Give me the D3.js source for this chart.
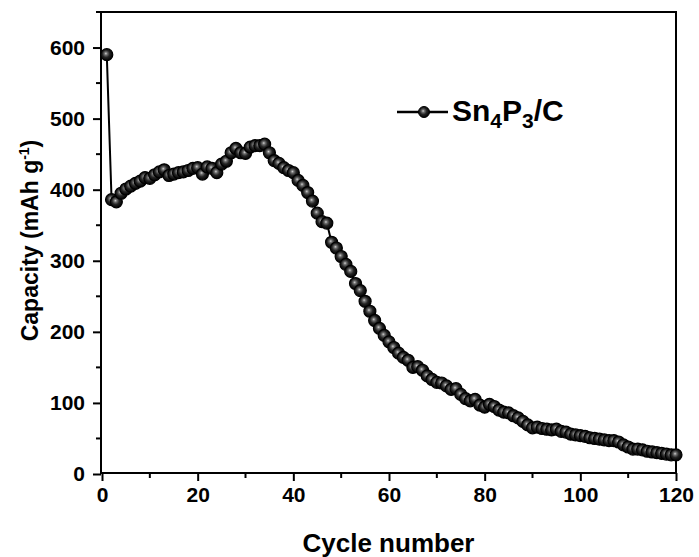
<!DOCTYPE html>
<html>
<head>
<meta charset="utf-8">
<script src="https://cdn.jsdelivr.net/npm/d3@7"></script>
<style>
  html, body { margin: 0; padding: 0; background: #fff; }
  svg { display: block; font-family: "Liberation Sans", Arial, sans-serif; font-weight: bold; }
</style>
</head>
<body>
<svg id="chart" width="699" height="557"></svg>
<script>
// Cycling capacity of the Sn4P3/C electrode (mAh g^-1), one value per cycle
const cycles = d3.range(1, 121);
const capacity = [
  590, 386, 383, 395, 401, 405, 409, 412, 417, 416,
  421, 425, 428, 420, 422, 424, 425, 427, 430, 431,
  422, 432, 430, 424, 436, 440, 452, 458, 452, 451,
  460, 462, 462, 464, 452, 441, 437, 431, 427, 424,
  413, 406, 396, 384, 367, 355, 353, 326, 318, 306,
  295, 285, 268, 258, 243, 229, 216, 205, 195, 186,
  178, 170, 164, 160, 150, 151, 146, 138, 133, 129,
  128, 124, 119, 120, 112, 106, 103, 105, 97, 94,
  98, 95, 90, 87, 86, 82, 79, 74, 69, 65,
  66, 64, 63, 62, 63, 60, 59, 56, 55, 54,
  53, 51, 50, 49, 48, 47, 47, 45, 41, 38,
  35, 35, 34, 32, 31, 30, 29, 28, 27, 27
];
const xTicks = [0, 20, 40, 60, 80, 100, 120];
const yTicks = [0, 100, 200, 300, 400, 500, 600];

const svg = d3.select("#chart");
const plotL = 101, plotR = 676, plotT = 12, plotB = 473;

const x = d3.scaleLinear().domain([0, 120]).range([102, 676]);
const y = d3.scaleLinear().domain([0, 650]).range([474, 12]);

// Sphere-like marker shading
const defs = svg.append("defs");
const grad = defs.append("radialGradient").attr("id", "ball")
  .attr("cx", "45%").attr("cy", "45%").attr("r", "55%").attr("fx", "42%").attr("fy", "40%");
grad.append("stop").attr("offset", "0%").attr("stop-color", "#d0d0d0");
grad.append("stop").attr("offset", "22%").attr("stop-color", "#707070");
grad.append("stop").attr("offset", "55%").attr("stop-color", "#242424");
grad.append("stop").attr("offset", "100%").attr("stop-color", "#000");

// Frame
svg.append("rect")
  .attr("x", plotL).attr("y", plotT)
  .attr("width", plotR - plotL).attr("height", plotB - plotT)
  .attr("fill", "none").attr("stroke", "#000").attr("stroke-width", 2);

// Minor ticks
const minorX = d3.range(10, 120, 20);
const minorY = d3.range(50, 651, 100);
svg.append("g").selectAll("line").data(minorX).join("line")
  .attr("x1", d => x(d)).attr("x2", d => x(d))
  .attr("y1", plotB).attr("y2", plotB + 5)
  .attr("stroke", "#000").attr("stroke-width", 2);
svg.append("g").selectAll("line").data(minorY).join("line")
  .attr("y1", d => y(d)).attr("y2", d => y(d))
  .attr("x1", plotL).attr("x2", plotL - 5)
  .attr("stroke", "#000").attr("stroke-width", 2);

// Major axes
const xAxis = svg.append("g").attr("transform", `translate(0,${plotB})`)
  .call(d3.axisBottom(x).tickValues(xTicks).tickSize(8).tickPadding(6).tickFormat(d3.format("d")));
const yAxis = svg.append("g").attr("transform", `translate(${plotL},0)`)
  .call(d3.axisLeft(y).tickValues(yTicks).tickSize(8).tickPadding(8).tickFormat(d3.format("d")));
[xAxis, yAxis].forEach(g => {
  g.select(".domain").remove();
  g.selectAll(".tick line").attr("stroke", "#000").attr("stroke-width", 2);
  g.selectAll(".tick text").attr("fill", "#000")
    .style("font-size", "21px").style("font-weight", "bold")
    .style("font-family", "'Liberation Sans', Arial, sans-serif");
});

// Axis titles
svg.append("text")
  .attr("x", (plotL + plotR) / 2).attr("y", 552)
  .attr("text-anchor", "middle").style("font-size", "26px")
  .text("Cycle number");

const yTitle = svg.append("text")
  .attr("transform", `translate(38,${(plotT + plotB) / 2 - 2}) rotate(-90)`)
  .attr("text-anchor", "middle").style("font-size", "23px");
yTitle.append("tspan").text("Capacity (mAh g");
yTitle.append("tspan").attr("dy", -9).style("font-size", "14px").text("-1");
yTitle.append("tspan").attr("dy", 9).text(")");

// Data line and markers
const data = cycles.map((c, i) => ({ c, v: capacity[i] }));
svg.append("path").datum(data)
  .attr("fill", "none").attr("stroke", "#000").attr("stroke-width", 2)
  .attr("d", d3.line().x(d => x(d.c)).y(d => y(d.v)));
svg.append("g").selectAll("circle").data(data).join("circle")
  .attr("cx", d => x(d.c)).attr("cy", d => y(d.v)).attr("r", 6)
  .attr("fill", "url(#ball)").attr("stroke", "#000").attr("stroke-width", 1.2);

// Legend
const lg = svg.append("g");
lg.append("line").attr("x1", 397).attr("x2", 448).attr("y1", 112).attr("y2", 112)
  .attr("stroke", "#000").attr("stroke-width", 2.5);
lg.append("circle").attr("cx", 424).attr("cy", 112).attr("r", 5.5)
  .attr("fill", "url(#ball)").attr("stroke", "#000").attr("stroke-width", 1);
const lt = lg.append("text").attr("x", 452).attr("y", 121).style("font-size", "30px");
lt.append("tspan").text("Sn");
lt.append("tspan").attr("dy", 7).style("font-size", "21px").text("4");
lt.append("tspan").attr("dy", -7).text("P");
lt.append("tspan").attr("dy", 7).style("font-size", "21px").text("3");
lt.append("tspan").attr("dy", -7).text("/C");
</script>
</body>
</html>
